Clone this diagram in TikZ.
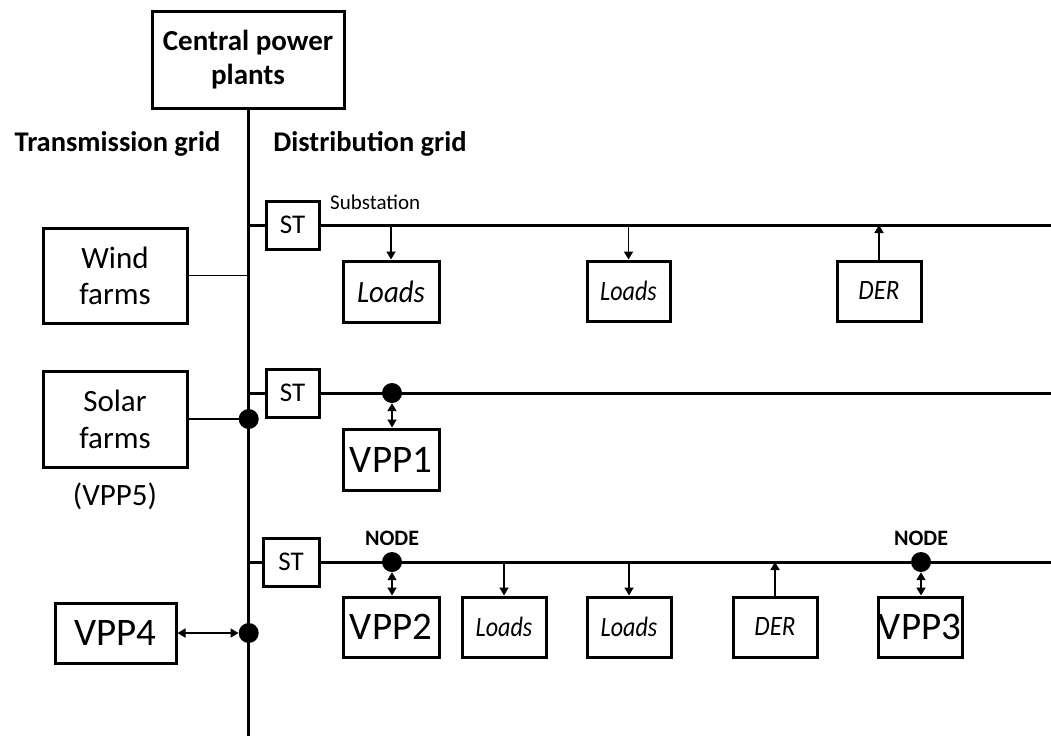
\documentclass[tikz,border=0pt]{standalone}
\usepackage{fontspec}
\setmainfont{Carlito}
\usetikzlibrary{arrows.meta}
\newcommand{\fs}[1]{\fontsize{#1}{#1}\selectfont}
\newcommand{\cond}[3]{\scalebox{#1}[1]{\itshape\fs{#2}#3}}
\begin{document}
\begin{tikzpicture}[x=1pt,y=-1pt,
  box/.style={draw,line width=3pt,inner sep=0pt,align=center},
  bus/.style={line width=3pt},
  thin/.style={line width=1.7pt},
  tip/.style={-{Triangle[length=8pt,width=9pt]},line width=1.7pt},
  dtip/.style={{Triangle[length=8pt,width=9pt]}-{Triangle[length=8pt,width=9pt]},line width=1.7pt},
  dot/.style={circle,fill=black,inner sep=0pt,minimum size=20pt},
  lbl/.style={inner sep=0pt}]
\useasboundingbox (0,0) rectangle (1051,736);
% central
\node[box,minimum width=192pt,minimum height=97pt,font=\bfseries\fontsize{29}{34}\selectfont] (cpp) at (248,59.5) {Central power\\plants};
\coordinate (vbot) at (248.7,736);
\draw[bus] (cpp.south -| vbot) -- (vbot);
\node[lbl,font=\bfseries\fs{28.5}] (tg) at (117.5,144) {Transmission grid};
\node[lbl,font=\bfseries\fs{28.5}] (dg) at (370,144) {Distribution grid};
% left side
\node[box,minimum width=144pt,minimum height=95pt,font=\fontsize{31}{36}\selectfont] (wind) at (115,275.5) {Wind\\farms};
\node[box,minimum width=144pt,minimum height=96pt,font=\fontsize{31}{37}\selectfont] (solar) at (115,419) {Solar\\farms};
\node[lbl,font=\fs{31}] (vpp5) at (115,496) {(VPP5)};
\node[box,minimum width=121pt,minimum height=60pt,font=\fs{39}] (vpp4) at (115.5,633) {VPP4};
\node[dot] (dt1) at (248.7,419) {};
\node[dot] (dt2) at (248.7,633) {};
\draw[thin] (wind.east) -- (wind.east -| vbot);
\draw[thin] (solar.east) -- (dt1);
\draw[dtip] (vpp4.east) -- (dt2);
% substations
\node[box,minimum width=53pt,minimum height=48pt,font=\fs{27}] (st1) at (292.5,225) {ST};
\node[box,minimum width=53pt,minimum height=48pt,font=\fs{27}] (st2) at (292.5,393) {ST};
\node[box,minimum width=56pt,minimum height=48pt,font=\fs{27}] (st3) at (291,562) {ST};
\node[lbl,anchor=west,font=\fs{21}] (sub) at (330,202) {Substation};
\draw[bus] (st1.west -| vbot) -- (st1.west);
\draw[bus] (st2.west -| vbot) -- (st2.west);
\draw[bus] (st3.west -| vbot) -- (st3.west);
\coordinate (e1) at (1051,225);
\coordinate (e2) at (1051,393);
\coordinate (e3) at (1051,562);
\draw[bus] (st1.east) -- (e1);
\draw[bus] (st2.east) -- (e2);
\draw[bus] (st3.east) -- (e3);
% row 1
\node[box,minimum width=96pt,minimum height=61pt] (l1) at (391,291.5) {\cond{0.93}{31}{Loads}};
\node[box,minimum width=83pt,minimum height=60pt] (l2) at (628.5,291) {\cond{0.86}{28}{Loads}};
\node[box,minimum width=84pt,minimum height=60pt] (der1) at (879,291) {\cond{0.89}{28}{DER}};
\draw[tip] (l1.north |- e1) -- (l1.north);
\draw[tip] (l2.north |- e1) -- (l2.north);
\draw[tip] (der1.north) -- (der1.north |- e1);
% row 2
\node[dot] (d1) at (392,393) {};
\node[box,minimum width=96pt,minimum height=61pt,font=\fs{39}] (vpp1) at (391,459.5) {VPP1};
\draw[dtip] (d1.south) -- (vpp1.north -| d1);
% row 3
\node[dot] (d2) at (392,562) {};
\node[dot] (d3) at (921,562) {};
\node[lbl,font=\bfseries\fs{22}] (n1) at (392,538) {NODE};
\node[lbl,font=\bfseries\fs{22}] (n2) at (921,538) {NODE};
\node[box,minimum width=96pt,minimum height=60pt,font=\fs{39}] (vpp2) at (391,627) {VPP2};
\node[box,minimum width=84pt,minimum height=60pt] (l3) at (504,627) {\cond{0.86}{28}{Loads}};
\node[box,minimum width=84pt,minimum height=60pt] (l4) at (629,627) {\cond{0.86}{28}{Loads}};
\node[box,minimum width=84pt,minimum height=60pt] (der2) at (775,627) {\cond{0.89}{28}{DER}};
\node[box,minimum width=84pt,minimum height=60pt,font=\fs{39}] (vpp3) at (920,627) {VPP3};
\draw[dtip] (d2.south) -- (vpp2.north -| d2);
\draw[dtip] (d3.south) -- (vpp3.north -| d3);
\draw[tip] (l3.north |- e3) -- (l3.north);
\draw[tip] (l4.north |- e3) -- (l4.north);
\draw[tip] (der2.north) -- (der2.north |- e3);
\end{tikzpicture}
\end{document}
